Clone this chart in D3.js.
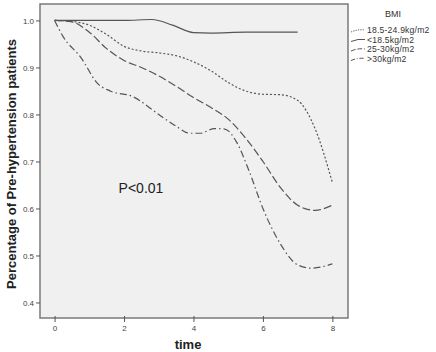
<!DOCTYPE html>
<html><head><meta charset="utf-8">
<script src="https://cdn.jsdelivr.net/npm/d3@7"></script>
<style>html,body{margin:0;padding:0;background:#fff;}svg{display:block;}</style>
</head><body><svg id="c" width="436" height="352"></svg>
<script>
const seriesNames = ["18.5-24.9kg/m2", "<18.5kg/m2", "25-30kg/m2", ">30kg/m2"];
const dashes = ["2,2", null, "8,3", "7,3,1.5,3"];
const bmi18to25 = [[0,1],[0.5,0.998],[1,0.99],[1.5,0.97],[2,0.945],[2.5,0.935],[3,0.931],[3.5,0.925],[4,0.912],[4.5,0.893],[5,0.868],[5.5,0.85],[6,0.843],[6.5,0.842],[7,0.83],[7.5,0.77],[8,0.655]];
const bmiUnder18 = [[0,1],[1,1.0],[2,1.0],[2.8,1.002],[3.4,0.99],[4,0.974],[4.5,0.973],[5.5,0.975],[7,0.975]];
const bmi25to30 = [[0,1],[0.5,0.997],[1,0.975],[1.5,0.94],[2,0.915],[2.5,0.9],[3,0.882],[3.5,0.86],[4,0.836],[4.5,0.815],[5,0.79],[5.5,0.75],[6,0.7],[6.5,0.645],[7,0.607],[7.5,0.596],[8,0.607]];
const bmiOver30 = [[0,1],[0.25,0.965],[0.75,0.922],[1.25,0.865],[1.6,0.85],[2.25,0.838],[3,0.8],[3.5,0.775],[3.9,0.76],[4.2,0.76],[4.6,0.77],[4.9,0.769],[5.25,0.74],[5.6,0.68],[6,0.6],[6.5,0.525],[7,0.48],[7.4,0.473],[8,0.482]];
const seriesData = [bmi18to25, bmiUnder18, bmi25to30, bmiOver30];
const xTicks = [0,2,4,6,8];
const yTicks = [0.4,0.5,0.6,0.7,0.8,0.9,1.0];

const svg = d3.select("#c");
const L = 40, T = 4, R = 348, B = 318;
const x = d3.scaleLinear().domain([-0.42, 8.45]).range([L, R]);
const y = d3.scaleLinear().domain([0.367, 1.035]).range([B, T]);

svg.append("rect").attr("x", L).attr("y", T).attr("width", R-L).attr("height", B-T)
  .attr("fill", "#f0f0f0").attr("stroke", "#7a7a7a").attr("stroke-width", 1.5);

const tickFont = "Arial, 'Liberation Sans', sans-serif";
const yAx = svg.append("g").attr("transform", `translate(${L},0)`)
  .call(d3.axisLeft(y).tickValues(yTicks).tickFormat(d3.format(".1f")).tickSize(4).tickPadding(2));
yAx.select(".domain").remove();
yAx.selectAll("line").attr("stroke", "#555");
yAx.selectAll("text").attr("font-family", tickFont).attr("font-size", 8).attr("fill", "#444");

const xAx = svg.append("g").attr("transform", `translate(0,${B})`)
  .call(d3.axisBottom(x).tickValues(xTicks).tickFormat(d3.format("d")).tickSize(4).tickPadding(3));
xAx.select(".domain").remove();
xAx.selectAll("line").attr("stroke", "#555").attr("y1", -2);
xAx.selectAll("text").attr("font-family", tickFont).attr("font-size", 8).attr("fill", "#444");

const line = d3.line().x(d => x(d[0])).y(d => y(d[1])).curve(d3.curveMonotoneX);
seriesData.forEach((s, i) => {
  svg.append("path").attr("d", line(s)).attr("fill", "none")
    .attr("stroke", "#555").attr("stroke-width", 1.2)
    .attr("stroke-dasharray", dashes[i]);
});

svg.append("text").attr("x", 141).attr("y", 193).attr("text-anchor", "middle")
  .attr("font-family", tickFont).attr("font-size", 14).attr("fill", "#222").text("P<0.01");

svg.append("text").attr("transform", "translate(16,164) rotate(-90)").attr("text-anchor", "middle")
  .attr("font-family", tickFont).attr("font-size", 13).attr("font-weight", "bold").attr("fill", "#222")
  .text("Percentage of Pre-hypertension patients");
svg.append("text").attr("x", 188).attr("y", 349).attr("text-anchor", "middle")
  .attr("font-family", tickFont).attr("font-size", 13).attr("font-weight", "bold").attr("fill", "#222")
  .text("time");

svg.append("text").attr("x", 393).attr("y", 17).attr("text-anchor", "middle")
  .attr("font-family", tickFont).attr("font-size", 9).attr("fill", "#333").text("BMI");
seriesNames.forEach((n, i) => {
  const yy = 30 + i * 9.5;
  svg.append("path").attr("d", `M351,${yy+2} Q358,${yy-1} 365,${yy}`).attr("fill", "none")
    .attr("stroke", "#555").attr("stroke-width", 1).attr("stroke-dasharray", dashes[i] ? dashes[i].split(",").map(v => v*0.6).join(",") : null);
  svg.append("text").attr("x", 367).attr("y", yy + 3).attr("font-family", tickFont)
    .attr("font-size", 8.6).attr("letter-spacing", 0.2).attr("fill", "#333").text(n);
});
</script></body></html>
